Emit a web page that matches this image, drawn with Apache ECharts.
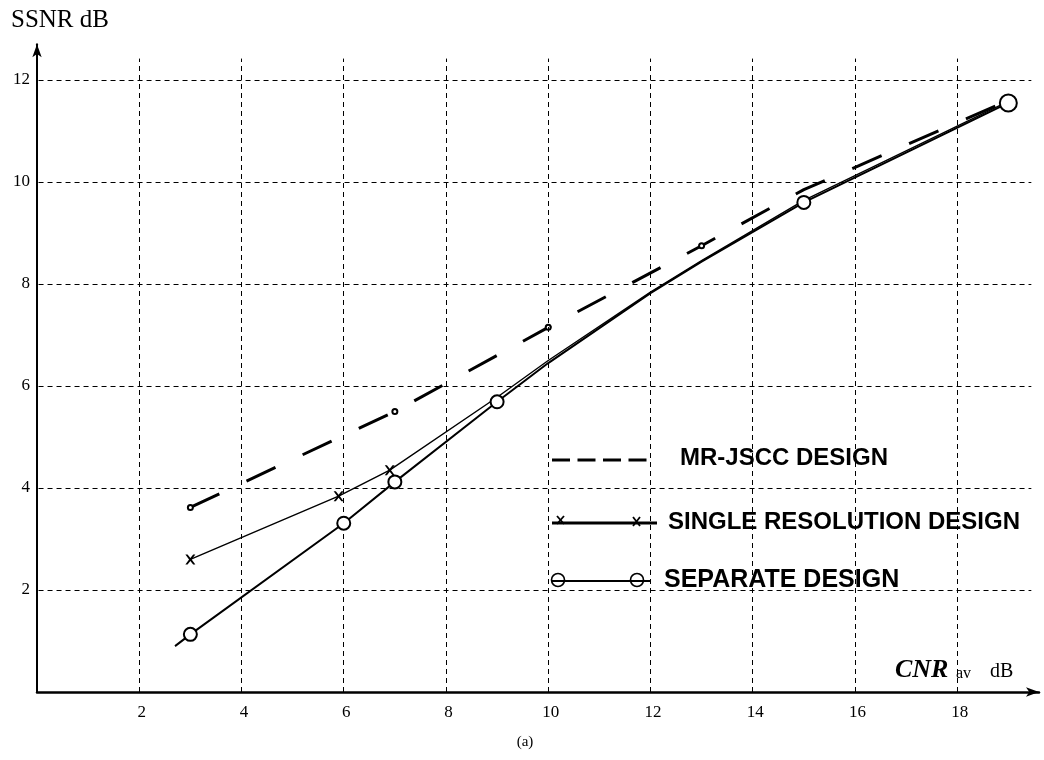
<!DOCTYPE html>
<html>
<head>
<meta charset="utf-8">
<script src="https://cdn.jsdelivr.net/npm/echarts@6/dist/echarts.min.js"></script>
<style>
html,body{margin:0;padding:0;background:#fff;}
#chart{width:1044px;height:760px;}
</style>
</head>
<body>
<div id="chart"></div>
<script>
// ---- data ----
const xTicks = [2, 4, 6, 8, 10, 12, 14, 16, 18];
const yTicks = [2, 4, 6, 8, 10, 12];

const mrX = [3, 7, 10, 13, 15, 19];
const mrY = [3.62, 5.5, 7.15, 8.75, 9.85, 11.6];
const mrMarked = [3, 7, 10, 13];

const singleX = [3, 5.9, 6.9, 9, 10, 12, 13, 15, 19];
const singleY = [2.6, 3.84, 4.35, 5.78, 6.5, 7.84, 8.46, 9.64, 11.58];
const singleMarked = [3, 5.9, 6.9];

const sepX = [2.7, 3, 6, 7, 9, 10, 12, 13, 15, 19];
const sepY = [0.9, 1.13, 3.31, 4.12, 5.69, 6.45, 7.82, 8.44, 9.6, 11.55];
const sepMarked = [3, 6, 7, 9, 15, 19];

const names = ['MR-JSCC DESIGN', 'SINGLE RESOLUTION DESIGN', 'SEPARATE DESIGN'];

// ---- build ----
const pairs = (xs, ys, marked) => xs.map((x, i) =>
  marked.includes(x) ? { value: [x, ys[i]] } : { value: [x, ys[i]], symbol: 'none' });
const xShape = 'path://M0,0 L2.2,0 L5,3.5 L7.8,0 L10,0 L6.3,5 L10,10 L7.8,10 L5,6.5 L2.2,10 L0,10 L3.7,5 Z';

const sepData = pairs(sepX, sepY, sepMarked);
sepData[sepData.length - 1].symbolSize = 17;

const gridLines = [];
xTicks.forEach(v => gridLines.push([{ coord: [v, 0] }, { coord: [v, 12.42] }]));
yTicks.forEach(v => gridLines.push([{ coord: [0.03, v] }, { coord: [19.45, v] }]));

const serif = 'Liberation Serif';

const chart = echarts.init(document.getElementById('chart'), null, { renderer: 'canvas' });
chart.setOption({
  backgroundColor: '#fff',
  animation: false,
  grid: { left: 37, right: 5, top: 44.3, bottom: 68, containLabel: false },
  xAxis: {
    type: 'value', min: 0, max: 19.6, interval: 2,
    axisLine: { show: true, symbol: ['none', 'arrow'], symbolSize: [7, 13], lineStyle: { color: '#000', width: 2.5 } },
    axisTick: { show: false },
    splitLine: { show: false },
    axisLabel: {
      showMinLabel: false, showMaxLabel: false,
      color: '#000', fontFamily: serif, fontSize: 17, margin: 12, padding: [0, 0, 0, 5],
      formatter: v => (xTicks.includes(v) ? String(v) : '')
    }
  },
  yAxis: {
    type: 'value', min: 0, max: 12.7, interval: 2,
    axisLine: { show: true, symbol: ['none', 'arrow'], symbolSize: [7, 13], lineStyle: { color: '#000', width: 2 } },
    axisTick: { show: false },
    splitLine: { show: false },
    axisLabel: {
      showMinLabel: false, showMaxLabel: false,
      color: '#000', fontFamily: serif, fontSize: 17, margin: 7, padding: [0, 0, 4, 0],
      formatter: v => (yTicks.includes(v) ? String(v) : '')
    }
  },
  series: [
    {
      type: 'line', name: 'grid', data: [], silent: true, z: 1,
      markLine: {
        silent: true, symbol: ['none', 'none'], animation: false,
        label: { show: false },
        lineStyle: { color: '#000', width: 1, type: [5, 4], opacity: 1 },
        emphasis: { disabled: true },
        data: gridLines
      }
    },
    {
      type: 'line', name: names[0], data: pairs(mrX, mrY, mrMarked), z: 3,
      lineStyle: { color: '#000', width: 3, type: [32, 30] },
      symbol: 'emptyCircle', symbolSize: 5, showAllSymbol: true,
      itemStyle: { color: '#000', borderColor: '#000', borderWidth: 1 }
    },
    {
      type: 'line', name: names[1], data: pairs(singleX, singleY, singleMarked), z: 4,
      lineStyle: { color: '#000', width: 1.4 },
      symbol: xShape, symbolSize: 10, showAllSymbol: true,
      itemStyle: { color: '#000' }
    },
    {
      type: 'line', name: names[2], data: sepData, z: 5,
      lineStyle: { color: '#000', width: 2 },
      symbol: 'emptyCircle', symbolSize: 13, showAllSymbol: true,
      itemStyle: { color: '#000', borderColor: '#000', borderWidth: 1.6 }
    }
  ],
  graphic: [
    { type: 'text', left: 11, top: 8, style: { text: 'SSNR dB', font: '25px "Liberation Serif"', fill: '#000' } },
    { type: 'text', x: 895, y: 683, style: { text: 'CNR', font: 'italic bold 26px "Liberation Serif"', fill: '#000', verticalAlign: 'bottom' } },
    { type: 'text', x: 956, y: 682, style: { text: 'av', font: '16px "Liberation Serif"', fill: '#000', verticalAlign: 'bottom' } },
    { type: 'text', x: 990, y: 682, style: { text: 'dB', font: '20px "Liberation Serif"', fill: '#000', verticalAlign: 'bottom' } },
    { type: 'text', x: 525, y: 742, style: { text: '(a)', font: '15px "Liberation Serif"', fill: '#000', align: 'center', verticalAlign: 'middle' } },

    // legend: MR-JSCC
    { type: 'line', shape: { x1: 552, y1: 460, x2: 647, y2: 460 }, style: { stroke: '#000', lineWidth: 3, lineDash: [18, 7.5] } },
    { type: 'text', x: 680, y: 458, style: { text: names[0], font: 'bold 24px "Liberation Sans"', fill: '#000', verticalAlign: 'middle' } },
    // legend: single resolution
    { type: 'line', shape: { x1: 552, y1: 523, x2: 657, y2: 523 }, style: { stroke: '#000', lineWidth: 3 } },
    { type: 'line', shape: { x1: 557, y1: 516, x2: 564, y2: 524 }, style: { stroke: '#000', lineWidth: 1.8 } },
    { type: 'line', shape: { x1: 564, y1: 516, x2: 557, y2: 524 }, style: { stroke: '#000', lineWidth: 1.8 } },
    { type: 'line', shape: { x1: 633, y1: 517, x2: 640, y2: 526 }, style: { stroke: '#000', lineWidth: 1.8 } },
    { type: 'line', shape: { x1: 640, y1: 517, x2: 633, y2: 526 }, style: { stroke: '#000', lineWidth: 1.8 } },
    { type: 'text', x: 668, y: 522, style: { text: names[1], font: 'bold 24px "Liberation Sans"', fill: '#000', verticalAlign: 'middle' } },
    // legend: separate
    { type: 'line', shape: { x1: 552, y1: 581, x2: 651, y2: 581 }, style: { stroke: '#000', lineWidth: 2 } },
    { type: 'circle', shape: { cx: 558, cy: 580, r: 6.5 }, style: { stroke: '#000', lineWidth: 1.6, fill: 'none' } },
    { type: 'circle', shape: { cx: 637, cy: 580, r: 6.5 }, style: { stroke: '#000', lineWidth: 1.6, fill: 'none' } },
    { type: 'text', x: 664, y: 580, style: { text: names[2], font: 'bold 25px "Liberation Sans"', fill: '#000', verticalAlign: 'middle' } }
  ]
});
</script>
</body>
</html>
